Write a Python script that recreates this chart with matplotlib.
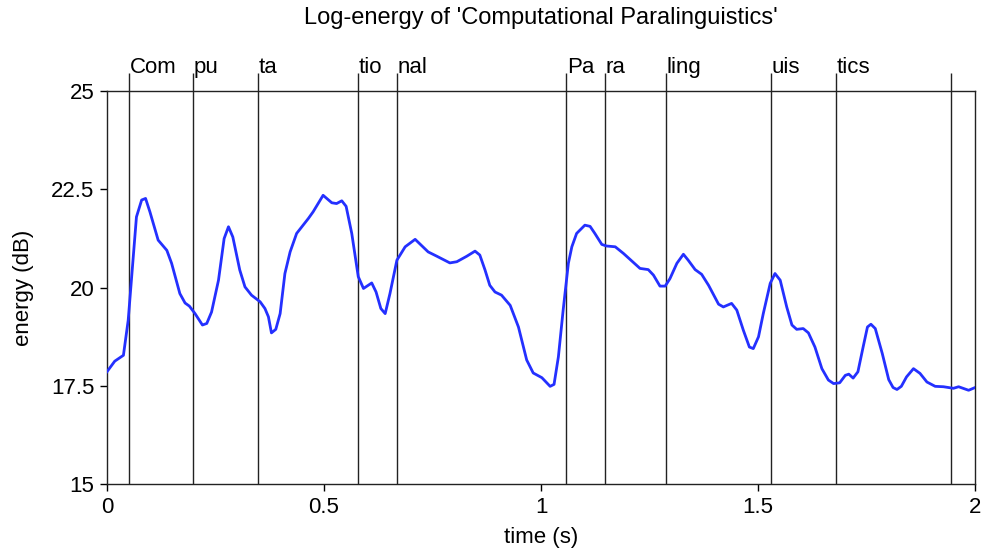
import numpy as np
import matplotlib
matplotlib.use("Agg")
import matplotlib.pyplot as plt

plt.rcParams["font.family"] = ["Liberation Sans", "DejaVu Sans"]

# -----------------------------
# Data
# -----------------------------
time_s = [0.000, 0.018, 0.038, 0.049, 0.068, 0.080, 0.089, 0.099, 0.118, 0.138,
          0.149, 0.168, 0.180, 0.190, 0.203, 0.220, 0.230, 0.241, 0.257, 0.270,
          0.280, 0.290, 0.306, 0.318, 0.333, 0.353, 0.364, 0.372, 0.379, 0.389,
          0.399, 0.410, 0.422, 0.437, 0.449, 0.464, 0.475, 0.498, 0.518, 0.529,
          0.541, 0.551, 0.564, 0.579, 0.591, 0.610, 0.620, 0.631, 0.641, 0.652,
          0.668, 0.687, 0.710, 0.740, 0.760, 0.790, 0.806, 0.829, 0.848, 0.859,
          0.871, 0.882, 0.894, 0.909, 0.929, 0.948, 0.967, 0.982, 1.002, 1.021,
          1.030, 1.040, 1.051, 1.063, 1.071, 1.082, 1.101, 1.113, 1.124, 1.140,
          1.151, 1.171, 1.190, 1.228, 1.247, 1.259, 1.274, 1.286, 1.297, 1.313,
          1.328, 1.339, 1.355, 1.370, 1.386, 1.409, 1.420, 1.439, 1.451, 1.466,
          1.480, 1.489, 1.501, 1.512, 1.528, 1.539, 1.551, 1.566, 1.578, 1.589,
          1.604, 1.616, 1.631, 1.647, 1.662, 1.674, 1.688, 1.701, 1.709, 1.719,
          1.730, 1.742, 1.752, 1.760, 1.770, 1.786, 1.801, 1.811, 1.820, 1.830,
          1.842, 1.858, 1.873, 1.889, 1.908, 1.927, 1.950, 1.962, 1.985, 2.000]
energy_db = [17.86, 18.13, 18.28, 19.17, 21.80, 22.23, 22.27, 21.93, 21.21, 20.95,
             20.62, 19.85, 19.61, 19.53, 19.34, 19.05, 19.09, 19.38, 20.19, 21.25,
             21.55, 21.29, 20.45, 20.02, 19.81, 19.64, 19.47, 19.26, 18.85, 18.94,
             19.34, 20.36, 20.91, 21.38, 21.55, 21.76, 21.93, 22.35, 22.16, 22.14,
             22.21, 22.07, 21.38, 20.28, 19.98, 20.12, 19.89, 19.47, 19.34, 19.85,
             20.70, 21.04, 21.23, 20.91, 20.80, 20.63, 20.66, 20.80, 20.93, 20.83,
             20.45, 20.06, 19.89, 19.81, 19.55, 19.00, 18.16, 17.83, 17.71, 17.49,
             17.54, 18.24, 19.43, 20.62, 21.04, 21.38, 21.59, 21.56, 21.38, 21.10,
             21.06, 21.04, 20.87, 20.49, 20.46, 20.32, 20.04, 20.04, 20.23, 20.62,
             20.85, 20.70, 20.46, 20.34, 20.06, 19.58, 19.51, 19.60, 19.43, 18.92,
             18.49, 18.45, 18.75, 19.34, 20.11, 20.36, 20.19, 19.51, 19.05, 18.94,
             18.96, 18.85, 18.49, 17.94, 17.65, 17.56, 17.58, 17.77, 17.80, 17.70,
             17.86, 18.49, 19.00, 19.07, 18.96, 18.33, 17.66, 17.46, 17.41, 17.49,
             17.73, 17.94, 17.82, 17.60, 17.49, 17.48, 17.44, 17.48, 17.39, 17.46]

# syllable boundaries (s) and labels; last boundary has no label
boundaries = [0.051, 0.198, 0.348, 0.578, 0.668, 1.058, 1.147, 1.288, 1.530, 1.680, 1.945]
syllables = ["Com", "pu", "ta", "tio", "nal", "Pa", "ra", "ling", "uis", "tics", ""]

x_ticks = [0, 0.5, 1, 1.5, 2]
x_tick_labels = ["0", "0.5", "1", "1.5", "2"]
y_ticks = [15, 17.5, 20, 22.5, 25]
y_tick_labels = ["15", "17.5", "20", "22.5", "25"]

# -----------------------------
# Plot
# -----------------------------
fig = plt.figure(figsize=(9.81, 5.49), dpi=100)
ax = fig.add_axes([0.109, 0.118, 0.885, 0.716])

ax.plot(time_s, energy_db, color="#2430ff", linewidth=2.0, zorder=3)

line_top = 25.46
ax.vlines(boundaries, 15, line_top, colors="#222222", linewidth=1.0,
          clip_on=False, zorder=2)
for b, s in zip(boundaries, syllables):
    if s:
        ax.text(b + 0.002, line_top, s, ha="left", va="baseline", fontsize=16)

ax.set_xlim(0, 2)
ax.set_ylim(15, 25)
ax.set_xticks(x_ticks)
ax.set_xticklabels(x_tick_labels)
ax.set_yticks(y_ticks)
ax.set_yticklabels(y_tick_labels)
ax.tick_params(direction="out", length=5, width=1, labelsize=16, pad=4)

for sp in ax.spines.values():
    sp.set_linewidth(1.0)
    sp.set_color("#222222")

ax.set_xlabel("time (s)", fontsize=16, labelpad=7)
ax.set_ylabel("energy (dB)", fontsize=16, labelpad=12)
fig.text(0.551, 0.967, "Log-energy of 'Computational Paralinguistics'",
         ha="center", va="center", fontsize=17)

fig.savefig("out.png", dpi=100)
